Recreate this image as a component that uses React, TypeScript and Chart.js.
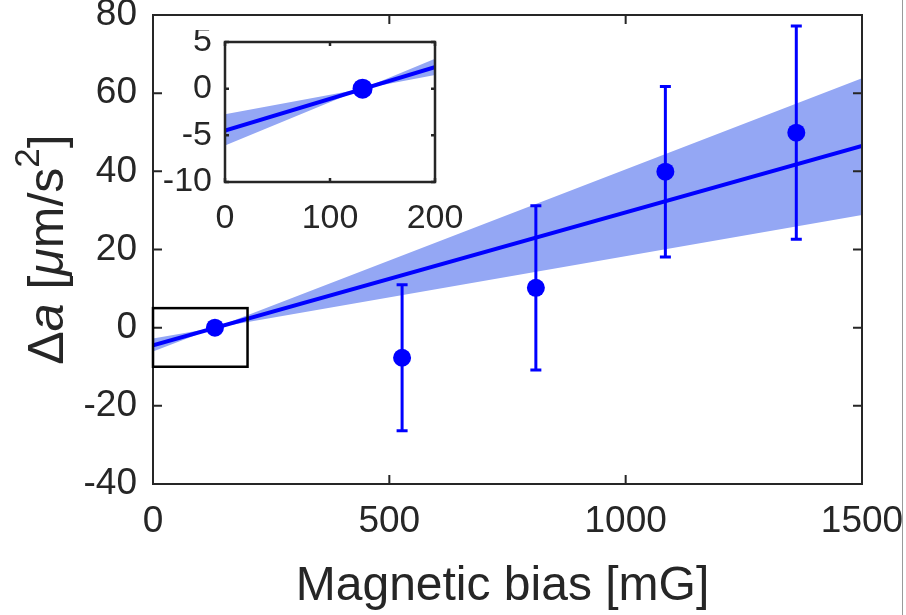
import React, { useEffect, useRef } from 'react';
import { Chart, registerables } from 'chart.js';

Chart.register(...registerables);

// ---- data ----
const pointX = [131, 527, 810, 1084, 1361];
const pointY = [0, -7.7, 10.2, 39.9, 49.9];
const pointErr = [0.4, 18.7, 21.0, 21.8, 27.3];

const fitX = [0, 1500];
const fitY = [-4.5, 46.5];

const bandX = [0, 131, 1500];
const bandEdgeA = [-6.1, 0, 63.8];
const bandEdgeB = [-2.75, 0, 28.8];

const mainXTicks = [0, 500, 1000, 1500];
const mainYTicks = [-40, -20, 0, 20, 40, 60, 80];
const insetXTicks = [0, 100, 200];
const insetYTicks = [-10, -5, 0, 5];

const insetBoxX = [0, 200];
const insetBoxY = [-10, 5];

const xTitle = 'Magnetic bias [mG]';
const yTitleParts = [
  { text: 'Δ', italic: false, sup: false },
  { text: 'a', italic: true, sup: false },
  { text: ' [', italic: false, sup: false },
  { text: 'μ', italic: true, sup: false },
  { text: 'm/s', italic: false, sup: false },
  { text: '2', italic: false, sup: true },
  { text: ']', italic: false, sup: false },
];

const FONT = "'Liberation Sans', Arial, Helvetica, sans-serif";
const BLUE = 'rgb(0,0,255)';
const BAND = 'rgb(148,167,244)';
const AXIS = '#262626';

function toXY(xs: number[], ys: number[]) {
  return xs.map((x, i) => ({ x, y: ys[i] }));
}

function makeConfig(p: any): any {
  const frameTicks = {
    id: 'frameTicks',
    beforeDraw(chart: any) {
      const { ctx, chartArea: a } = chart;
      ctx.save();
      ctx.fillStyle = '#ffffff';
      ctx.fillRect(a.left, a.top, a.right - a.left, a.bottom - a.top);
      ctx.restore();
    },
    afterDraw(chart: any) {
      const { ctx, chartArea: a, scales } = chart;
      const x = scales.x, y = scales.y;
      ctx.save();
      ctx.strokeStyle = AXIS;
      ctx.lineWidth = p.frameWidth;
      ctx.beginPath();
      x.ticks.forEach((t: any) => {
        const px = x.getPixelForValue(t.value);
        ctx.moveTo(px, a.bottom); ctx.lineTo(px, a.bottom - p.tickLen);
        ctx.moveTo(px, a.top); ctx.lineTo(px, a.top + p.tickLen);
      });
      y.ticks.forEach((t: any) => {
        const py = y.getPixelForValue(t.value);
        ctx.moveTo(a.left, py); ctx.lineTo(a.left + p.tickLen, py);
        ctx.moveTo(a.right, py); ctx.lineTo(a.right - p.tickLen, py);
      });
      ctx.stroke();
      ctx.strokeRect(a.left, a.top, a.right - a.left, a.bottom - a.top);

      if (p.box) {
        const x0 = x.getPixelForValue(insetBoxX[0]);
        const x1 = x.getPixelForValue(insetBoxX[1]);
        const y0 = y.getPixelForValue(insetBoxY[1]);
        const y1 = y.getPixelForValue(insetBoxY[0]);
        ctx.strokeStyle = '#000';
        ctx.lineWidth = 2.5;
        ctx.strokeRect(x0, y0, x1 - x0, y1 - y0);
      }

      if (p.titles) {
        ctx.fillStyle = AXIS;
        ctx.font = `48px ${FONT}`;
        ctx.textAlign = 'center';
        ctx.textBaseline = 'alphabetic';
        ctx.fillText(xTitle, (a.left + a.right) / 2 - 5, 600);

        // y title, rotated
        const big = 50, small = 35;
        const fontFor = (pt: any) => `${pt.italic ? 'italic ' : ''}${pt.sup ? small : big}px ${FONT}`;
        let total = 0;
        const widths = yTitleParts.map((pt) => {
          ctx.font = fontFor(pt);
          const w = ctx.measureText(pt.text).width;
          total += w;
          return w;
        });
        ctx.save();
        ctx.translate(63, (a.top + a.bottom) / 2);
        ctx.rotate(-Math.PI / 2);
        ctx.textAlign = 'left';
        let cx = -total / 2;
        yTitleParts.forEach((pt, i) => {
          ctx.font = fontFor(pt);
          ctx.fillText(pt.text, cx, pt.sup ? -24 : 0);
          cx += widths[i];
        });
        ctx.restore();
      }
      ctx.restore();
    },
  };

  const errorBars = {
    id: 'errorBars',
    beforeDatasetDraw(chart: any, args: any) {
      if (!p.errorBars || args.index !== 3) return;
      const { ctx, scales, chartArea: a } = chart;
      const x = scales.x, y = scales.y;
      ctx.save();
      ctx.beginPath();
      ctx.rect(a.left, a.top, a.right - a.left, a.bottom - a.top);
      ctx.clip();
      ctx.strokeStyle = BLUE;
      ctx.lineWidth = 3;
      ctx.beginPath();
      pointX.forEach((vx, i) => {
        const px = x.getPixelForValue(vx);
        const yt = y.getPixelForValue(pointY[i] + pointErr[i]);
        const yb = y.getPixelForValue(pointY[i] - pointErr[i]);
        ctx.moveTo(px, yt); ctx.lineTo(px, yb);
        ctx.moveTo(px - 5.5, yt); ctx.lineTo(px + 5.5, yt);
        ctx.moveTo(px - 5.5, yb); ctx.lineTo(px + 5.5, yb);
      });
      ctx.stroke();
      ctx.restore();
    },
  };

  const tickFont = { family: FONT, size: p.tickSize, lineHeight: 1.2 };

  return {
    type: 'scatter',
    data: {
      datasets: [
        {
          data: toXY(bandX, bandEdgeA),
          showLine: true, borderColor: 'transparent', pointRadius: 0, fill: false, order: 3,
        },
        {
          data: toXY(bandX, bandEdgeB),
          showLine: true, borderColor: 'transparent', pointRadius: 0,
          fill: '-1', backgroundColor: BAND, order: 2,
        },
        {
          data: toXY(fitX, fitY),
          showLine: true, borderColor: BLUE, borderWidth: 4, pointRadius: 0, fill: false, order: 1,
        },
        {
          data: toXY(pointX, pointY),
          showLine: false, pointRadius: p.pointRadius, pointBackgroundColor: BLUE,
          pointBorderColor: BLUE, pointBorderWidth: 0, order: 0,
        },
      ],
    },
    options: {
      animation: false,
      responsive: false,
      events: [],
      layout: { padding: p.padding },
      plugins: { legend: { display: false }, tooltip: { enabled: false }, title: { display: false } },
      scales: {
        x: {
          type: 'linear', min: p.xMin, max: p.xMax,
          afterBuildTicks: (s: any) => { s.ticks = p.xTicks.map((v: number) => ({ value: v })); },
          afterFit: (s: any) => { s.height = p.xHeight; s.paddingLeft = 0; s.paddingRight = 0; },
          grid: { display: false, drawTicks: false },
          border: { display: false },
          ticks: {
            font: tickFont, color: AXIS, padding: p.xPad, maxRotation: 0, autoSkip: false,
            callback: (v: any) => String(v),
          },
        },
        y: {
          type: 'linear', min: p.yMin, max: p.yMax,
          afterBuildTicks: (s: any) => { s.ticks = p.yTicks.map((v: number) => ({ value: v })); },
          afterFit: (s: any) => { s.width = p.yWidth; s.paddingTop = 0; s.paddingBottom = 0; },
          grid: { display: false, drawTicks: false },
          border: { display: false },
          ticks: {
            font: tickFont, color: AXIS, padding: p.yPad, autoSkip: false,
            callback: (v: any) => String(v),
          },
        },
      },
    },
    plugins: [frameTicks, errorBars],
  };
}

export default function App() {
  const mainRef = useRef<HTMLCanvasElement>(null);
  const insetRef = useRef<HTMLCanvasElement>(null);

  useEffect(() => {
    const main = new Chart(mainRef.current as HTMLCanvasElement, makeConfig({
      xMin: 0, xMax: 1500, yMin: -40, yMax: 80,
      xTicks: mainXTicks, yTicks: mainYTicks,
      yWidth: 153, xHeight: 131,
      padding: { left: 0, top: 15, right: 44, bottom: 0 },
      tickSize: 37, xPad: 16, yPad: 16, tickLen: 9, frameWidth: 2,
      pointRadius: 9, errorBars: true, box: true, titles: true,
    }));
    const inset = new Chart(insetRef.current as HTMLCanvasElement, makeConfig({
      xMin: 0, xMax: 200, yMin: -10, yMax: 5,
      xTicks: insetXTicks, yTicks: insetYTicks,
      yWidth: 65, xHeight: 63,
      padding: { left: 0, top: 12, right: 35, bottom: 0 },
      tickSize: 34, xPad: 16, yPad: 13, tickLen: 4, frameWidth: 2.5,
      pointRadius: 10, errorBars: false, box: false, titles: false,
    }));
    return () => { main.destroy(); inset.destroy(); };
  }, []);

  return (
    <div style={{ position: 'absolute', left: 0, top: 0, width: 906, height: 615, background: '#fff' }}>
      <canvas ref={mainRef} width={906} height={615} style={{ position: 'absolute', left: 0, top: 0 }} />
      <canvas ref={insetRef} width={310} height={215} style={{ position: 'absolute', left: 160, top: 30 }} />
      <div style={{ position: 'absolute', left: 902, top: 0, width: 1, height: 615, background: '#9a9a9a' }} />
    </div>
  );
}
